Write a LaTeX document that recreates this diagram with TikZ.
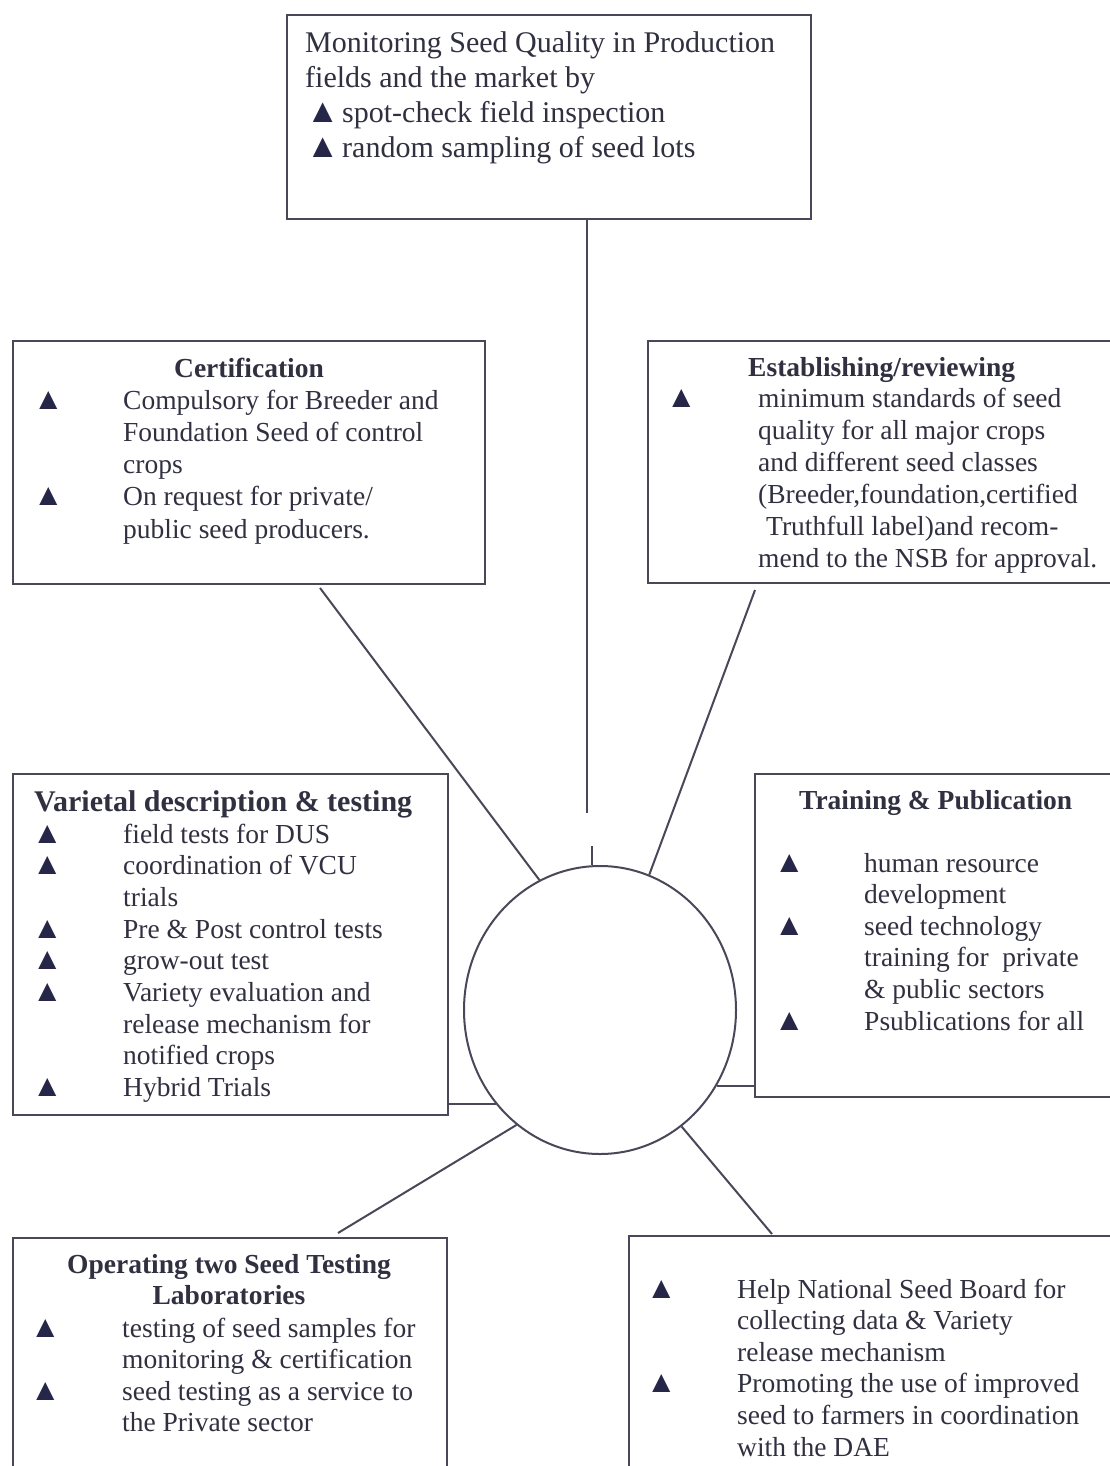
\documentclass[tikz,border=0pt]{standalone}
\usepackage{fontspec}
\setmainfont{Liberation Serif}
\usetikzlibrary{shapes.geometric,calc}
\definecolor{ink}{RGB}{48,48,64}
\definecolor{edge}{RGB}{72,72,88}
\definecolor{tri}{RGB}{38,38,72}
\newcommand{\tb}{\hspace*{-4pt}\textcolor{tri}{\scalebox{1.12}{▲}}}
\newcommand{\bl}[2]{\makebox[#1][l]{\tb}#2}
\newcommand{\cl}[2]{\hspace*{#1}#2}
\newcommand{\bodyfont}[1]{\fontsize{27.5}{#1}\selectfont}
\tikzset{
  box/.style={draw=edge, line width=2pt, anchor=north west, inner sep=0pt},
  conn/.style={draw=edge, line width=2pt},
  txt/.style={anchor=base west, inner sep=0pt, text=ink},
  ttl/.style={anchor=base, inner sep=0pt, text=ink, font=\fontsize{27.5}{32}\selectfont\bfseries},
}
\begin{document}
\begin{tikzpicture}[x=1pt,y=-1pt]
\clip (0,0) rectangle (1110,1466);
\fill[white] (0,0) rectangle (1110,1466);

% boxes
\node[box, minimum width=524pt, minimum height=204pt] (topbox) at (286,14) {};
\node[box, minimum width=472pt, minimum height=243pt] (cert) at (12,340) {};
\node[box, minimum width=470pt, minimum height=242pt] (estab) at (647,340) {};
\node[box, minimum width=435pt, minimum height=341pt] (var) at (12,773) {};
\node[box, minimum width=362pt, minimum height=323pt] (train) at (754,773) {};
\node[box, minimum width=434pt, minimum height=260pt] (oper) at (12,1237) {};
\node[box, minimum width=490pt, minimum height=260pt] (help) at (628,1235) {};

% hub
\node[draw=edge, line width=2pt, ellipse, minimum width=272pt, minimum height=288pt, inner sep=0pt] (hub) at (600,1010) {};

% top box text
\node[txt] (topT) at (305,53) {\parbox[t]{500pt}{\fontsize{30}{34.7}\selectfont
Monitoring Seed Quality in Production\\
fields and the market by\\
\cl{5pt}{\makebox[32pt][l]{\tb}spot-check field inspection}\\
\cl{5pt}{\makebox[32pt][l]{\tb}random sampling of seed lots}}};

% certification
\node[ttl] (certT) at (249,377) {Certification};
\node[txt] (certL) at (37,409) {\parbox[t]{460pt}{\bodyfont{32.3}
\bl{86pt}{Compulsory for Breeder and}\\
\cl{86pt}{Foundation Seed of control}\\
\cl{86pt}{crops}\\
\bl{86pt}{On request for private/}\\
\cl{86pt}{public seed producers.}}};

% establishing
\node[ttl, anchor=base west] (estT) at (748,376) {Establishing/reviewing};
\node[txt] (estL) at (670,407) {\parbox[t]{460pt}{\bodyfont{32}
\bl{88pt}{minimum standards of seed}\\
\cl{88pt}{quality for all major crops}\\
\cl{88pt}{and different seed classes}\\
\cl{88pt}{(Breeder,foundation,certified}\\
\cl{96pt}{Truthfull label)and recom-}\\
\cl{88pt}{mend to the NSB for approval.}}};

% varietal
\node[ttl, anchor=base west, font=\fontsize{30}{34}\selectfont\bfseries] (varT) at (34,811) {Varietal description \& testing};
\node[txt] (varL) at (36,843) {\parbox[t]{420pt}{\bodyfont{31.7}
\bl{87pt}{field tests for DUS}\\
\bl{87pt}{coordination of VCU}\\
\cl{87pt}{trials}\\
\bl{87pt}{Pre \& Post control tests}\\
\bl{87pt}{grow-out test}\\
\bl{87pt}{Variety evaluation and}\\
\cl{87pt}{release mechanism for}\\
\cl{87pt}{notified crops}\\
\bl{87pt}{Hybrid Trials}}};

% training
\node[ttl, anchor=base west] (trT) at (799,809) {Training \& Publication};
\node[txt] (trL) at (778,872) {\parbox[t]{340pt}{\bodyfont{31.6}
\bl{86pt}{human resource}\\
\cl{86pt}{development}\\
\bl{86pt}{seed technology}\\
\cl{86pt}{training for\ \ private}\\
\cl{86pt}{\& public sectors}\\
\bl{86pt}{Psublications for all}}};

% operating
\node[ttl] (opT1) at (229,1273) {Operating two Seed Testing};
\node[ttl] (opT2) at (229,1304) {Laboratories};
\node[txt] (opL) at (34,1337) {\parbox[t]{420pt}{\bodyfont{31.5}
\bl{88pt}{testing of seed samples for}\\
\cl{88pt}{monitoring \& certification}\\
\bl{88pt}{seed testing as a service to}\\
\cl{88pt}{the Private sector}}};

% help NSB
\node[txt] (helpL) at (650,1298) {\parbox[t]{470pt}{\bodyfont{31.6}
\bl{87pt}{Help National Seed Board for}\\
\cl{87pt}{collecting data \& Variety}\\
\cl{87pt}{release mechanism}\\
\bl{87pt}{Promoting the use of improved}\\
\cl{87pt}{seed to farmers in coordination}\\
\cl{87pt}{with the DAE}}};

% connectors
\coordinate (tA) at (587,813);
\draw[conn] (topbox.south -| tA) -- (tA);
\coordinate (tB) at (592,846);
\draw[conn] (tB) -- (tB |- hub.north);
\coordinate (cA) at (320,588);
\draw[conn] (cA) -- (hub.115);
\coordinate (eA) at (755,590);
\draw[conn] (eA) -- (hub.70);
\draw[conn] (var.east |- hub.222) -- (hub.222);
\draw[conn] (train.west |- hub.327) -- (hub.327);
\coordinate (oA) at (338,1233);
\draw[conn] (oA) -- (hub.234);
\coordinate (bA) at (772,1234);
\draw[conn] (hub.305) -- (bA);
\end{tikzpicture}
\end{document}
